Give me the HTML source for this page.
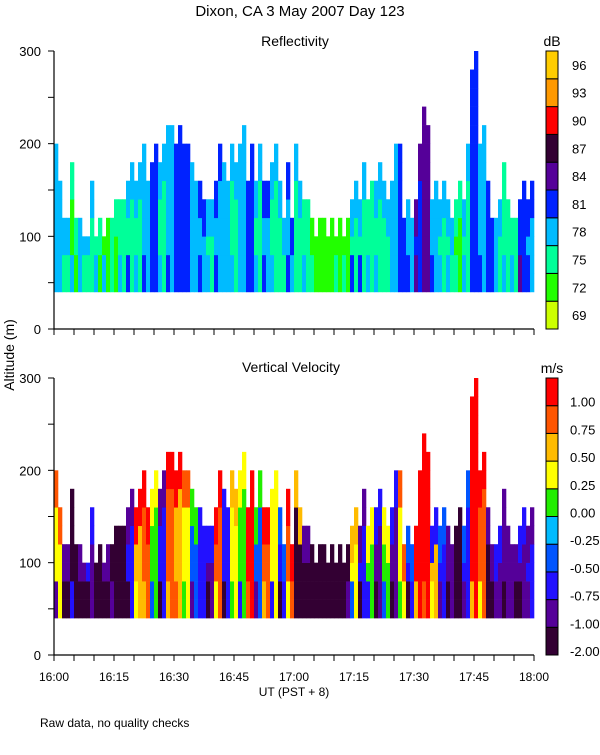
<!DOCTYPE html>
<html><head><meta charset="utf-8"><style>
body{margin:0;background:#fff;width:600px;height:750px;overflow:hidden}
svg text{font-family:"Liberation Sans",sans-serif;fill:#000}
</style></head><body>
<svg id="s" width="600" height="750">
<text x="300" y="16" font-size="15" text-anchor="middle">Dixon, CA  3 May 2007  Day 123</text>
<text x="295" y="46" font-size="14" text-anchor="middle">Reflectivity</text>
<text x="291" y="372" font-size="14" text-anchor="middle">Vertical Velocity</text>
<text x="552" y="46" font-size="14" text-anchor="middle">dB</text>
<text x="552" y="373" font-size="14" text-anchor="middle">m/s</text>
<text transform="translate(14,355) rotate(-90)" font-size="14" text-anchor="middle">Altitude (m)</text>
<text x="294" y="696" font-size="12" text-anchor="middle">UT  (PST + 8)</text>
<text x="40" y="727" font-size="12">Raw data, no quality checks</text>
<g id="g"></g>
</svg>
<script>
const timeLabels=["16:00","16:15","16:30","16:45","17:00","17:15","17:30","17:45","18:00"];
const altTicks=[0,100,200,300];
const reflLabels=["69","72","75","78","81","84","87","90","93","96"];
const velLabels=["-2.00","-1.00","-0.75","-0.50","-0.25","0.00","0.25","0.50","0.75","1.00"];
const reflColors=["#ccff00","#22ff00","#00ff99","#00bbff","#0022ff","#550099","#330033","#ff0000","#ff9900","#ffcc00"];
const velColors=["#330033","#550099","#2211ff","#0055ff","#00bbff","#22ee00","#ffff00","#ffbb00","#ff5500","#ff0000"];
const tops=[200,160,120,120,180,120,120,100,100,160,100,120,100,120,120,140,140,140,160,180,
160,180,200,160,180,200,180,200,220,220,200,220,200,200,180,160,160,140,140,140,
160,200,180,160,200,180,200,220,160,200,160,200,160,160,180,200,160,120,180,120,
200,160,140,140,120,100,120,120,100,120,100,120,100,120,140,160,140,180,140,160,
160,180,160,140,160,200,200,120,140,120,140,200,240,220,140,160,140,160,140,120,
140,160,140,200,280,300,200,220,160,120,120,140,180,140,120,120,140,160,140,160];
const reflTop=[78,78,75,78,78,75,73,75,75,78,78,79,81,78,79,81,82,79,81,78,81,79,78,79,82,78,81,78,78,81,
78,76,73,73,73,73,73,78,78,76,78,78,79,82,79,84,85,79,78,78,76,78,81,79,82,78,76,76,82,81];
const reflMid=[78,76,73,76,76,73,73,73,75,76,76,78,81,76,78,81,81,78,79,76,79,78,76,78,81,76,79,76,76,79,
76,75,73,73,72,73,73,76,76,76,76,76,78,81,78,82,84,78,76,76,73,76,81,78,81,76,75,75,81,79];
const reflLow=[78,76,78,78,76,78,78,76,78,81,78,81,82,79,81,82,81,79,82,78,81,78,78,79,82,78,81,78,76,81,
76,78,75,73,73,75,76,81,82,79,78,76,79,82,81,84,86,81,78,78,76,78,82,81,82,78,78,78,84,81];
const velTop=[0.9,-0.9,-1.5,-0.9,-0.6,-1.5,-0.9,-1.5,-1.5,-0.9,1.1,1.1,0.4,-0.9,1.1,1.1,0.9,0.1,-0.6,-0.6,
1.1,-0.6,0.6,0.4,1.1,0.1,1.1,0.4,-0.3,1.1,0.6,-0.9,-1.5,-1.5,-1.5,-1.5,-1.5,0.6,-0.9,0.4,
-0.6,0.4,-0.6,0.9,-0.3,1.1,1.1,-0.6,-0.3,-0.9,-1.5,-0.3,1.1,1.1,-0.9,-0.6,-0.9,-0.9,-0.6,-0.9];
const velMid=[0.4,-1.5,-1.5,-1.5,-0.9,-1.5,-1.5,-1.5,-1.5,-0.6,0.6,0.9,0.1,-0.6,0.9,0.6,0.4,-0.3,-0.6,-0.9,
0.9,-0.6,0.4,0.1,1.1,-0.3,0.9,0.4,-0.6,0.9,-1.5,-1.5,-1.5,-1.5,-1.5,-1.5,-0.9,0.4,-0.6,0.1,
-0.9,0.1,-0.9,0.4,-0.6,1.1,1.1,0.6,-0.6,-0.9,-1.5,-0.6,1.1,0.9,-1.5,-0.9,-0.9,-1.5,-0.9,-0.6];
const velLow=[-0.9,-1.5,-0.6,-1.5,-1.5,-1.5,-1.5,-0.9,-1.5,-1.5,0.4,0.6,-0.3,-1.5,0.6,0.9,0.1,-0.9,-0.6,-1.5,
0.4,-1.5,0.1,-0.6,0.9,-0.9,0.6,-0.6,-1.5,0.4,-1.5,-1.5,-1.5,-1.5,-1.5,-1.5,-1.5,-0.3,-1.5,-0.6,
-1.5,-0.3,-1.5,0.1,-1.5,0.6,0.9,0.4,-0.9,-1.5,-1.5,-0.9,0.6,0.4,-1.5,-0.9,-1.5,-0.9,-1.5,-0.9];
const baseAlt=40;

const NS="http://www.w3.org/2000/svg";
const g=document.getElementById('g');
const X0=54,X1=534,MINS=120;
const xs=m=>X0+(X1-X0)*m/MINS;
const panels=[{top:51,bot:329,name:'reflectivity'},{top:378,bot:655,name:'velocity'}];
function ys(p,a){return p.bot-(p.bot-p.top)*a/300;}
function mk(tag,at){const e=document.createElementNS(NS,tag);for(const k in at)e.setAttribute(k,at[k]);g.appendChild(e);return e;}
function reflIdx(v){return Math.max(0,Math.min(9,Math.floor((v-69)/3)));}
const velBounds=[-2,-1,-0.75,-0.5,-0.25,0,0.25,0.5,0.75,1];
function velIdx(v){let i=0;for(let k=0;k<10;k++)if(v>=velBounds[k])i=k;return i;}

panels.forEach((p,pi)=>{
  for(let m=0;m<MINS;m++){
    const k=Math.floor(m/2);
    for(let a=baseAlt;a<tops[m];a+=20){
      let layer=a<80?0:(a>=tops[m]-40?2:1);
      if(layer===0 && m%2===1) layer=1;
      let idx;
      if(pi===0){idx=reflIdx([reflLow,reflMid,reflTop][layer][k]);}
      else{idx=velIdx([velLow,velMid,velTop][layer][k]);}
      const r=mk('rect',{x:xs(m),y:ys(p,a+20),width:xs(m+1)-xs(m)+0.3,height:ys(p,a)-ys(p,a+20)+0.3,fill:(pi===0?reflColors:velColors)[idx]});
      
      
    }
  }
  const ax=mk('path',{d:`M${X0},${p.top}V${p.bot}H${X1}`,stroke:'#000','stroke-width':1.2,fill:'none'});
  
  
  for(let a=0;a<=300;a+=50){
    const t=mk('line',{x1:X0-6,x2:X0,y1:ys(p,a),y2:ys(p,a),stroke:'#000'});
    
    
  }
  altTicks.forEach(a=>{
    const t=mk('text',{x:X0-13,y:ys(p,a)+5,'font-size':13,'text-anchor':'end'});t.textContent=a;
    
    
  });
  for(let m=0;m<=MINS;m+=5){
    const t=mk('line',{x1:xs(m),x2:xs(m),y1:p.bot,y2:p.bot+6,stroke:'#000'});
    
    
  }
  const cols=pi===0?reflColors:velColors, labs=pi===0?reflLabels:velLabels;
  const bh=(p.bot-p.top)/10;
  for(let i=0;i<10;i++){
    const r=mk('rect',{x:546,y:p.bot-bh*(i+1),width:12,height:bh,fill:cols[i],stroke:'#000','stroke-width':1});
    
    
    const yy=pi===0?p.bot-bh*i-bh/2+5:p.bot-bh*i+1;
    const t=mk('text',{x:pi===0?572:570,y:yy,'font-size':13});t.textContent=labs[i];
    
    
  }
});
timeLabels.forEach((s,i)=>{
  const t=mk('text',{x:xs(i*15),y:681,'font-size':12,'text-anchor':'middle'});t.textContent=s;
  
  
});
</script>
</body></html>
